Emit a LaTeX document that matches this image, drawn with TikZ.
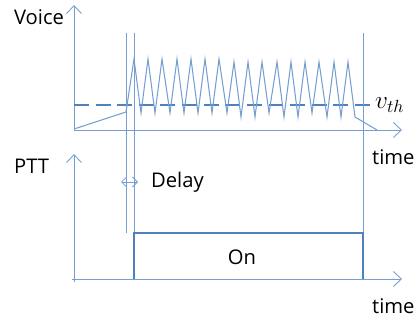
\documentclass[tikz,border=0pt]{standalone}
\usepackage{amsmath}
\usepackage{fontspec}
\setmainfont{Open Sans}
\usetikzlibrary{arrows.meta, positioning}
\definecolor{axisblue}{RGB}{118,158,210}
\definecolor{sigblue}{RGB}{79,129,189}

\begin{document}
\begin{tikzpicture}[
    x=0.02cm, y=-0.02cm,
    label/.style={font=\fontsize{11.5}{13}\selectfont, text=black, inner sep=1pt},
    axis/.style={-{Straight Barb[length=1.6mm, width=3mm]}, axisblue, line width=0.5pt},
    marker/.style={axisblue, line width=0.5pt},
    thresh/.style={sigblue, line width=1pt, dash pattern=on 8.5pt off 3.8pt},
    signal/.style={axisblue, line width=0.6pt, line join=miter},
    pulse/.style={sigblue, line width=1.6pt},
    delayarr/.style={{Straight Barb[length=1mm, width=2mm]}-{Straight Barb[length=1mm, width=2mm]}, axisblue, line width=0.5pt},
]
\useasboundingbox (0,0) rectangle (418,320);

% voice axes
\coordinate (vorig) at (74,130);
\coordinate (vtop) at (74,5);
\coordinate (vend) at (402,130);
\draw[axis] (vorig) -- (vtop);
\draw[axis] (vorig) -- (vend);

% ptt axes
\coordinate (porig) at (74,279);
\coordinate (ptop) at (74,154);
\coordinate (pend) at (402,279);
\draw[axis] (74,282) -- (ptop);
\draw[axis] (72,279) -- (pend);

% threshold
\coordinate (ths) at (74,105);
\coordinate (the) at (373,105);
\draw[thresh] (ths) -- (the);
\node[label, right=0pt of the, font=\fontsize{14}{15}\selectfont] (vth) {$v_{th}$};

% voice signal
\draw[signal] (74,129) -- (126,112) -- (134,59)
  \foreach \px/\py in {141/113, 148/59, 155/113, 162/59, 170/113, 177/59,
    184/113, 191/59, 198/113, 205/59, 212/113, 219/59, 227/113, 234/62,
    241/117, 248/62, 255/117, 262/62, 269/113, 277/62, 284/117, 291/62,
    298/117, 305/62, 312/113, 319/62, 327/117, 334/62, 341/117, 348/62,
    355/117, 377/130} { -- (\px,\py)};

% marker lines
\coordinate (m1top) at (126,33);
\coordinate (m1bot) at (126,233);
\coordinate (m2top) at (134,33);
\coordinate (m2bot) at (134,233);
\coordinate (m3top) at (363,33);
\coordinate (m3bot) at (363,233);
\draw[marker] (m1top) -- (m1bot);
\draw[marker] (m2top) -- (m2bot);
\draw[marker] (m3top) -- (m3bot);

% delay
\coordinate (dl) at (121,182);
\coordinate (dr) at (138,182);
\draw[delayarr] (dl) -- (dr);
\node[label, anchor=west] (delay) at (149,182) {Delay};

% ptt pulse
\draw[pulse] (134,279) -- (m2bot) -- (m3bot) -- (363,279);
\node[label] (on) at (242,257) {On};

% labels
\node[label, anchor=west] (voice) at (12,17) {Voice};
\node[label, anchor=west] (ptt) at (12,166) {PTT};
\node[label, anchor=west] (time1) at (370,157) {time};
\node[label, anchor=west] (time2) at (370,306) {time};

\end{tikzpicture}
\end{document}
